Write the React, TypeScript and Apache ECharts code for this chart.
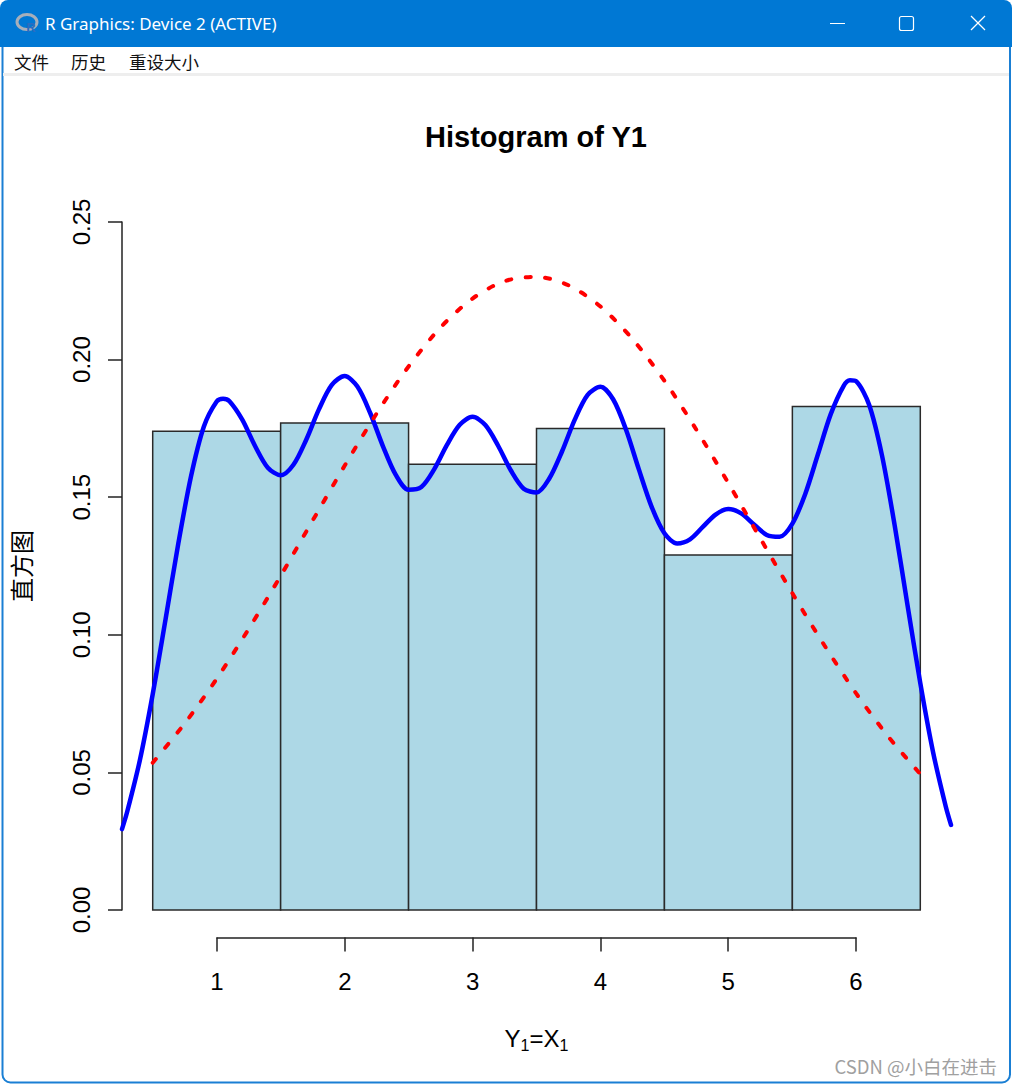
import React, { useEffect, useRef } from "react";
import * as echarts from "echarts";

// Histogram bins (breaks) and densities
const binBreaks = [0.5, 1.5, 2.5, 3.5, 4.5, 5.5, 6.5];
const barDensity = [0.174, 0.177, 0.162, 0.175, 0.129, 0.183];

// Axis ticks
const xTicks = [1, 2, 3, 4, 5, 6];
const yTicks = [0, 0.05, 0.1, 0.15, 0.2, 0.25];

// Blue kernel density curve
const kdeX = [
  0.26, 0.3, 0.4, 0.5, 0.6, 0.7, 0.8, 0.9, 1.0, 1.05, 1.1, 1.2, 1.3, 1.4, 1.5, 1.6, 1.7, 1.8, 1.9,
  2.0, 2.1, 2.2, 2.3, 2.4, 2.5, 2.6, 2.7, 2.8, 2.9, 3.0, 3.1, 3.2, 3.3, 3.4, 3.5, 3.6, 3.7,
  3.8, 3.9, 4.0, 4.1, 4.2, 4.3, 4.4, 4.5, 4.6, 4.7, 4.8, 4.9, 5.0, 5.1, 5.2, 5.3, 5.4, 5.5,
  5.6, 5.7, 5.8, 5.9, 5.95, 6.0, 6.1, 6.2, 6.3, 6.4, 6.5, 6.6, 6.7, 6.74,
];
const kdeY = [
  0.0294, 0.0356, 0.0545, 0.0784, 0.1055, 0.1331, 0.1577, 0.1757, 0.1848, 0.1858, 0.1849, 0.1782,
  0.1686, 0.1607, 0.158, 0.1618, 0.1709, 0.182, 0.1908, 0.194, 0.1902, 0.1806, 0.1685,
  0.1581, 0.1527, 0.1537, 0.1601, 0.169, 0.1763, 0.1792, 0.1762, 0.1687, 0.1597, 0.1531,
  0.1517, 0.1568, 0.1667, 0.1783, 0.1872, 0.1901, 0.1855, 0.1745, 0.1601, 0.1465, 0.1369,
  0.1332, 0.1347, 0.1392, 0.1437, 0.1457, 0.1441, 0.1401, 0.1363, 0.1356, 0.1404, 0.1511,
  0.1656, 0.1802, 0.1904, 0.1925, 0.1921, 0.1836, 0.1653, 0.1397, 0.1108, 0.0824, 0.0573, 0.0374,
  0.0309,
];

// Red dotted normal curve
const normX = [
  0.5, 0.75, 1.0, 1.25, 1.5, 1.75, 2.0, 2.25, 2.5, 2.75, 3.0, 3.25, 3.5, 3.75, 4.0, 4.25,
  4.5, 4.75, 5.0, 5.25, 5.5, 5.75, 6.0, 6.25, 6.5,
];
const normY = [
  0.0535, 0.0678, 0.084, 0.1021, 0.1214, 0.1415, 0.1614, 0.1804, 0.1975, 0.2117, 0.2222,
  0.2285, 0.2301, 0.227, 0.2193, 0.2075, 0.1923, 0.1745, 0.1551, 0.135, 0.1151, 0.0962,
  0.0786, 0.063, 0.0494,
];

const titleText = "Histogram of Y1";
const yName = "直方图";
const windowTitle = "R Graphics: Device 2 (ACTIVE)";
const menuItems = ["文件", "历史", "重设大小"];
const watermark = "CSDN @小白在进击";

const FONT = '"Liberation Sans", Arial, sans-serif';
const CJK = '"Noto Sans CJK SC", sans-serif';

export default function App() {
  const ref = useRef<HTMLDivElement>(null);

  useEffect(() => {
    if (!ref.current) return;
    const chart = echarts.init(ref.current, undefined, { renderer: "svg" });

    const histData = barDensity.map((d, i) => [binBreaks[i], binBreaks[i + 1], d]);
    const kdeData = kdeX.map((x, i) => [x, kdeY[i]]);
    const normData = normX.map((x, i) => [x, normY[i]]);

    const axisLineStyle = { color: "#222", width: 1.5 };
    const menuX = [14, 71, 129];

    const option: any = {
      animation: false,
      backgroundColor: "#ffffff",
      grid: [
        { left: 122, right: 61, top: 194.5, bottom: 147.5 },
        { left: 217, right: 156, top: 194.5, bottom: 147.5 },
        { left: 122, right: 61, top: 222, bottom: 175 },
      ],
      xAxis: [
        {
          gridIndex: 0,
          type: "value",
          min: 0.26,
          max: 6.74,
          axisLine: { show: false },
          axisTick: { show: false },
          axisLabel: { show: false },
          splitLine: { show: false },
          name: "{n|Y}{s|1}{n|=X}{s|1}",
          nameLocation: "middle",
          nameGap: 86,
          nameTextStyle: {
            color: "#000",
            fontFamily: FONT,
            fontSize: 24,
            rich: {
              n: { fontSize: 24, fontFamily: FONT, color: "#000" },
              s: { fontSize: 16, fontFamily: FONT, color: "#000", padding: [14, 0, 0, 0] },
            },
          },
        },
        {
          gridIndex: 1,
          type: "value",
          min: xTicks[0],
          max: xTicks[xTicks.length - 1],
          interval: 1,
          axisLine: { show: true, lineStyle: axisLineStyle },
          axisTick: { show: true, length: 14, lineStyle: axisLineStyle },
          axisLabel: { fontSize: 24, fontFamily: FONT, color: "#000", margin: 32 },
          splitLine: { show: false },
        },
        { gridIndex: 2, type: "value", show: false, min: 0, max: 1 },
      ],
      yAxis: [
        {
          gridIndex: 0,
          type: "value",
          min: -0.01,
          max: 0.26,
          axisLine: { show: false },
          axisTick: { show: false },
          axisLabel: { show: false },
          splitLine: { show: false },
          name: yName,
          nameLocation: "middle",
          nameGap: 90,
          nameRotate: 90,
          nameTextStyle: { color: "#000", fontFamily: CJK, fontSize: 24 },
        },
        { gridIndex: 1, type: "value", show: false, min: 0, max: 1 },
        {
          gridIndex: 2,
          type: "value",
          min: yTicks[0],
          max: yTicks[yTicks.length - 1],
          interval: 0.05,
          axisLine: { show: true, lineStyle: axisLineStyle },
          axisTick: { show: true, length: 14, lineStyle: axisLineStyle },
          axisLabel: {
            rotate: 90,
            fontSize: 24,
            fontFamily: FONT,
            color: "#000",
            margin: 29,
            formatter: (v: number) => v.toFixed(2),
          },
          splitLine: { show: false },
        },
      ],
      series: [
        {
          type: "custom",
          xAxisIndex: 0,
          yAxisIndex: 0,
          data: histData,
          encode: { x: [0, 1], y: 2 },
          renderItem: (_params: any, api: any) => {
            const p0 = api.coord([api.value(0), api.value(2)]);
            const p1 = api.coord([api.value(1), 0]);
            return {
              type: "rect",
              shape: { x: p0[0], y: p0[1], width: p1[0] - p0[0], height: p1[1] - p0[1] },
              style: { fill: "#ADD8E6", stroke: "#2a2a2a", lineWidth: 1.5 },
            };
          },
          z: 1,
        },
        {
          type: "line",
          xAxisIndex: 0,
          yAxisIndex: 0,
          data: kdeData,
          showSymbol: false,
          smooth: 0.3,
          clip: true,
          lineStyle: { color: "#0000FF", width: 4.5, join: "round", cap: "round" },
          z: 3,
        },
        {
          type: "line",
          xAxisIndex: 0,
          yAxisIndex: 0,
          data: normData,
          showSymbol: false,
          smooth: 0.3,
          lineStyle: { color: "#FF0000", width: 4, type: [5, 14.5], cap: "round" },
          z: 4,
        },
      ],
      graphic: [
        {
          type: "rect",
          shape: { x: 2.5, y: 20, width: 1007.5, height: 1062.5, r: 8 },
          style: { fill: "none", stroke: "#1a7fd4", lineWidth: 2 },
        },
        {
          type: "rect",
          shape: { x: 0, y: 0, width: 1012, height: 47, r: [8, 8, 0, 0] },
          style: { fill: "#0078D4" },
        },
        {
          type: "ellipse",
          shape: { cx: 27, cy: 22, rx: 10, ry: 7.5 },
          style: { fill: "none", stroke: "#a7afba", lineWidth: 3 },
        },
        {
          type: "text",
          x: 31,
          y: 27,
          style: {
            text: "R",
            fill: "#2b6cc0",
            font: 'bold 13px "Liberation Sans"',
            align: "center",
            verticalAlign: "middle",
          },
        },
        {
          type: "text",
          x: 45,
          y: 23,
          style: {
            text: windowTitle,
            fill: "#ffffff",
            font: '17px "Noto Sans"',
            align: "left",
            verticalAlign: "middle",
          },
        },
        {
          type: "line",
          shape: { x1: 830, y1: 23.5, x2: 845, y2: 23.5 },
          style: { stroke: "#ffffff", lineWidth: 1 },
        },
        {
          type: "rect",
          shape: { x: 899.5, y: 16.5, width: 14, height: 14, r: 2 },
          style: { fill: "none", stroke: "#ffffff", lineWidth: 1.2 },
        },
        {
          type: "line",
          shape: { x1: 971, y1: 16, x2: 985, y2: 30 },
          style: { stroke: "#ffffff", lineWidth: 1.2 },
        },
        {
          type: "line",
          shape: { x1: 985, y1: 16, x2: 971, y2: 30 },
          style: { stroke: "#ffffff", lineWidth: 1.2 },
        },
        ...menuItems.map((m, i) => ({
          type: "text",
          x: menuX[i],
          y: 61,
          style: {
            text: m,
            fill: "#111",
            font: `17.5px ${CJK}`,
            align: "left",
            verticalAlign: "middle",
          },
        })),
        {
          type: "rect",
          shape: { x: 3, y: 73, width: 1006, height: 3 },
          style: { fill: "#eeeeee" },
        },
        {
          type: "text",
          x: 536,
          y: 137,
          style: {
            text: titleText,
            fill: "#000",
            font: `bold 29px ${FONT}`,
            align: "center",
            verticalAlign: "middle",
          },
        },
        {
          type: "text",
          x: 997,
          y: 1066,
          style: {
            text: watermark,
            fill: "#a0a0a0",
            font: `18.5px ${CJK}`,
            align: "right",
            verticalAlign: "middle",
          },
        },
      ],
    };

    chart.setOption(option);
    return () => chart.dispose();
  }, []);

  return (
    <div
      ref={ref}
      style={{ position: "fixed", left: 0, top: 0, width: 1012, height: 1085, background: "#fff" }}
    />
  );
}
